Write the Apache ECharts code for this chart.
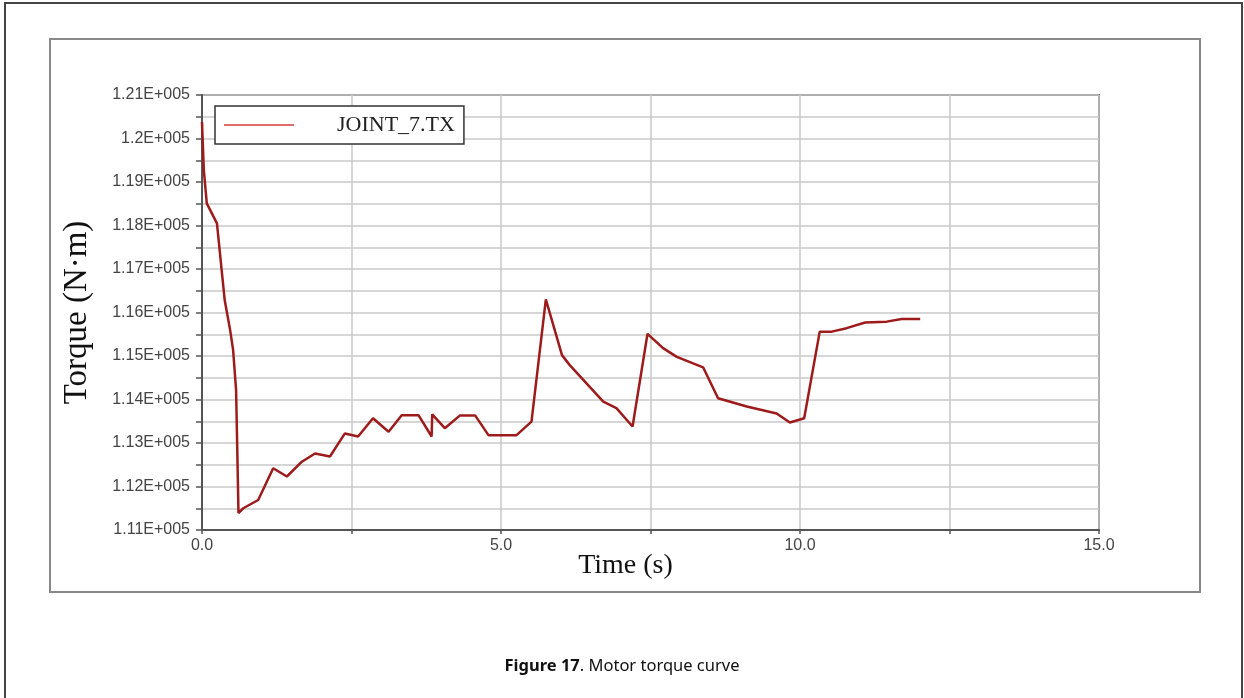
<!DOCTYPE html>
<html>
<head>
<meta charset="utf-8">
<script src="https://cdn.jsdelivr.net/npm/echarts@6/dist/echarts.min.js"></script>
<style>
html,body{margin:0;padding:0;background:#fff;}
#main{width:1244px;height:698px;}
</style>
</head>
<body>
<div id="main"></div>
<script>
// time (s)
var timeData = [0.0, 0.03, 0.08, 0.25, 0.38, 0.47, 0.52, 0.57, 0.59, 0.61,
  0.69, 0.94, 1.19, 1.42, 1.67, 1.89, 2.14, 2.39, 2.61, 2.86,
  3.12, 3.34, 3.62, 3.84, 3.85, 4.06, 4.31, 4.57, 4.79, 5.26,
  5.51, 5.75, 6.02, 6.15, 6.71, 6.93, 7.20, 7.45, 7.71, 7.94,
  8.38, 8.63, 9.11, 9.61, 9.83, 10.07, 10.33, 10.53, 10.78, 11.09,
  11.45, 11.70, 12.01];
// torque (N·m)
var torqueData = [120380, 119280, 118510, 118050, 116280, 115600, 115140, 114220, 112840, 111390,
  111500, 111690, 112420, 112230, 112570, 112760, 112690, 113220, 113150, 113570,
  113260, 113640, 113640, 113150, 113660, 113340, 113630, 113630, 113180, 113180,
  113490, 116300, 115020, 114790, 113950, 113800, 113380, 115510, 115180, 114980,
  114740, 114030, 113840, 113680, 113470, 113570, 115560, 115560, 115640, 115770,
  115790, 115850, 115850];
var xLabels = [0, 5, 10, 15];
var seriesName = 'JOINT_7.TX';

var chart = echarts.init(document.getElementById('main'));
var points = [];
for (var i = 0; i < timeData.length; i++) {
  points.push([timeData[i], torqueData[i]]);
}

var option = {
  animation: false,
  backgroundColor: '#fff',
  title: {
    text: '{b|Figure 17}. Motor torque curve',
    left: 'center',
    top: 653,
    textStyle: {
      fontFamily: 'Noto Sans',
      fontSize: 16.5,
      fontWeight: 'normal',
      color: '#111',
      rich: {
        b: {fontFamily: 'Noto Sans', fontSize: 16.5, fontWeight: 'bold', color: '#111'}
      }
    }
  },
  graphic: [
    {type: 'rect', shape: {x: 5, y: 3, width: 1237, height: 705}, style: {fill: 'none', stroke: '#444', lineWidth: 2}},
    {type: 'rect', shape: {x: 50, y: 39, width: 1150, height: 553}, style: {fill: 'none', stroke: '#888', lineWidth: 2}}
  ],
  legend: {
    left: 215,
    top: 106,
    padding: [8, 9, 8, 9],
    backgroundColor: '#fff',
    borderColor: '#333',
    borderWidth: 1.5,
    borderRadius: 0,
    icon: 'rect',
    itemWidth: 70,
    itemHeight: 1.5,
    itemStyle: {color: '#d43a3a'},
    textStyle: {
      fontFamily: 'Liberation Serif',
      fontSize: 22,
      color: '#222',
      padding: [0, 0, 0, 38]
    },
    data: [seriesName]
  },
  grid: {
    left: 202,
    top: 95,
    right: 145,
    bottom: 168,
    show: true,
    borderColor: '#666',
    borderWidth: 2
  },
  xAxis: {
    type: 'value',
    min: 0,
    max: 15,
    interval: 2.5,
    name: 'Time (s)',
    nameLocation: 'middle',
    nameGap: 22,
    nameMoveOverlap: false,
    nameTextStyle: {
      fontFamily: 'Liberation Serif',
      fontSize: 28,
      color: '#111',
      padding: [0, 50, 0, 0]
    },
    axisLine: {lineStyle: {color: '#555', width: 2}},
    axisTick: {show: true, length: 4, lineStyle: {color: '#555', width: 1.5}},
    axisLabel: {
      margin: 8,
      fontFamily: 'Liberation Sans',
      fontSize: 16,
      color: '#444',
      formatter: function (v) {
        return xLabels.indexOf(v) >= 0 ? v.toFixed(1) : '';
      }
    },
    splitLine: {show: true, lineStyle: {color: '#c8c8c8', width: 1.5}}
  },
  yAxis: {
    type: 'value',
    min: 111000,
    max: 121000,
    interval: 500,
    name: 'Torque (N·m)',
    nameLocation: 'middle',
    nameGap: 108,
    nameMoveOverlap: false,
    nameTextStyle: {
      fontFamily: 'Liberation Serif',
      fontSize: 33,
      color: '#111'
    },
    axisLine: {show: true, lineStyle: {color: '#555', width: 2}},
    axisTick: {show: true, length: 6, lineStyle: {color: '#555', width: 1.5}},
    axisLabel: {
      margin: 12,
      fontFamily: 'Liberation Sans',
      fontSize: 16,
      color: '#444',
      formatter: function (v) {
        if (v % 1000 !== 0) return '';
        return String(parseFloat((v / 1e5).toFixed(2))) + 'E+005';
      }
    },
    splitLine: {show: true, lineStyle: {color: '#c8c8c8', width: 1.5}}
  },
  series: [
    {
      name: seriesName,
      type: 'line',
      data: points,
      symbol: 'none',
      lineStyle: {color: '#9e1b1b', width: 2.5},
      itemStyle: {color: '#9e1b1b'}
    }
  ]
};
chart.setOption(option);
</script>
</body>
</html>
